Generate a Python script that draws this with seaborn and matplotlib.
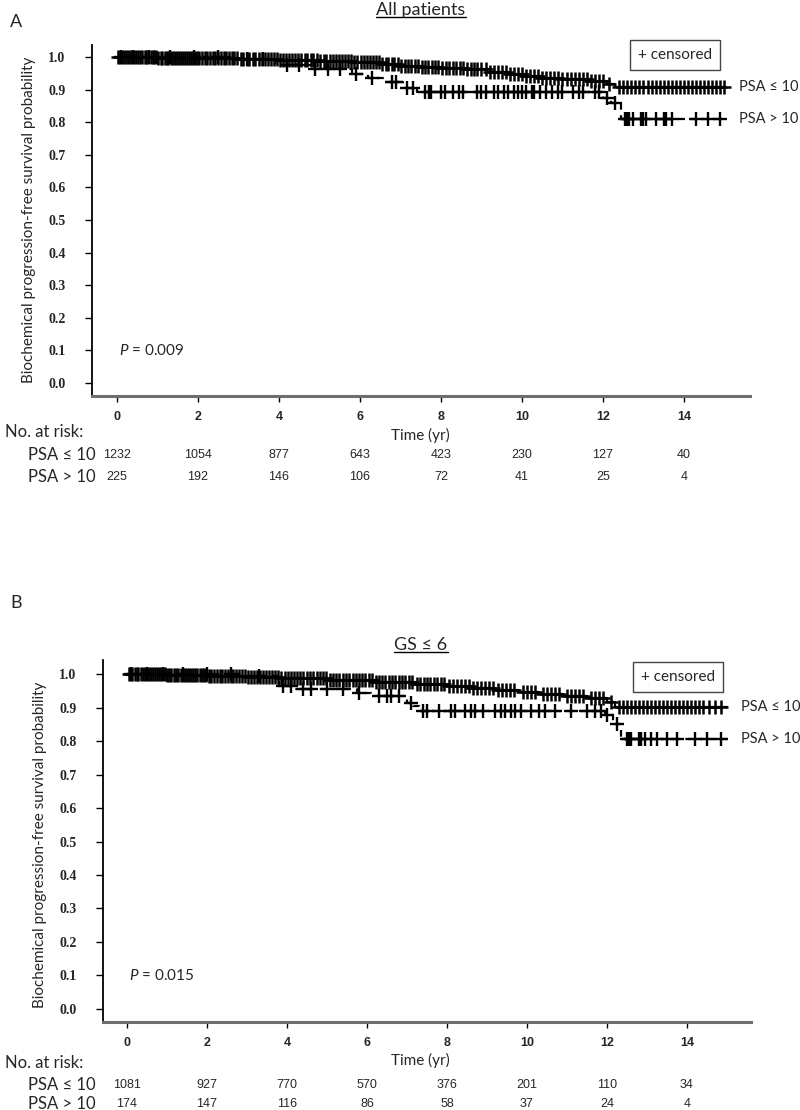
import numpy as np
import pandas as pd
import matplotlib
matplotlib.use("Agg")
import matplotlib.pyplot as plt
from matplotlib.lines import Line2D
import seaborn as sns

# ---------------- data ----------------
tick_years = [0, 2, 4, 6, 8, 10, 12, 14]
yticks = [0.0, 0.1, 0.2, 0.3, 0.4, 0.5, 0.6, 0.7, 0.8, 0.9, 1.0]

# Panel A: all patients
a_low_times = [0, 1.0, 2.0, 3.0, 4.0, 5.0, 5.8, 6.5, 7.0, 7.5, 8.0, 8.6, 9.2, 9.7, 10.1, 10.5, 11.0, 11.7, 12.1, 12.3, 15.0]
a_low_surv = [1.0, 0.998, 0.996, 0.993, 0.99, 0.987, 0.984, 0.979, 0.974, 0.97, 0.966, 0.962, 0.955, 0.948, 0.942, 0.937, 0.933, 0.928, 0.918, 0.908, 0.908]
a_high_times = [0, 2.8, 3.9, 4.8, 5.8, 6.2, 6.6, 7.05, 7.4, 12.0, 12.2, 12.45, 15.0]
a_high_surv = [1.0, 0.993, 0.975, 0.962, 0.948, 0.936, 0.922, 0.906, 0.893, 0.875, 0.858, 0.81, 0.81]
a_low_cens = [0.03, 0.08, 0.12, 0.18, 0.22, 0.27, 0.33, 0.38, 0.42, 0.47, 0.52, 0.58, 0.62, 0.68, 0.72, 0.77, 0.83,
              0.88, 0.92, 0.97, 1.02, 1.08, 1.12, 1.18, 1.23, 1.27, 1.33, 1.38, 1.43, 1.48, 1.53, 1.57, 1.63, 1.68,
              1.72, 1.78, 1.83, 1.88, 1.93, 1.98, 2.03, 2.1, 2.17, 2.23, 2.3, 2.37, 2.43, 2.5, 2.57, 2.63, 2.7, 2.77,
              2.83, 2.9, 2.97, 3.05, 3.12, 3.2, 3.27, 3.35, 3.42, 3.5, 3.57, 3.65, 3.72, 3.8, 3.87, 3.95, 4.03, 4.1,
              4.18, 4.25, 4.33, 4.4, 4.48, 4.55, 4.63, 4.7, 4.78, 4.85, 4.93, 5.02, 5.1, 5.17, 5.25, 5.33, 5.4, 5.48,
              5.55, 5.63, 5.7, 5.78, 5.85, 5.93, 6.02, 6.1, 6.18, 6.25, 6.33, 6.4, 6.48, 6.55, 6.63, 6.7, 6.78, 6.85,
              6.93, 7.02, 7.1, 7.18, 7.27, 7.35, 7.43, 7.52, 7.6, 7.68, 7.77, 7.85, 7.93, 8.03, 8.12, 8.2, 8.3, 8.38,
              8.47, 8.55, 8.65, 8.73, 8.82, 8.9, 9.0, 9.1, 9.2, 9.3, 9.4, 9.5, 9.6, 9.7, 9.8, 9.9, 10.0, 10.1, 10.2,
              10.3, 10.4, 10.5, 10.6, 10.7, 10.8, 10.9, 11.0, 11.1, 11.2, 11.3, 11.4, 11.5, 11.6, 11.7, 11.8, 11.9,
              12.0, 12.15, 12.4, 12.5, 12.6, 12.7, 12.8, 12.9, 13.0, 13.1, 13.2, 13.3, 13.4, 13.5, 13.6, 13.7, 13.8,
              13.9, 14.0, 14.1, 14.2, 14.3, 14.4, 14.5, 14.6, 14.7, 14.8, 14.9, 15.0]
a_high_cens = [0.1, 0.4, 0.8, 1.3, 1.9, 2.5, 3.2, 3.6, 4.2, 4.5, 4.9, 5.2, 5.5, 5.9, 6.3, 6.8, 6.9, 7.15, 7.3, 7.6,
               7.7, 7.75, 8.0, 8.1, 8.3, 8.45, 8.55, 8.9, 9.0, 9.1, 9.3, 9.4, 9.55, 9.65, 9.8, 9.9, 10.0, 10.1, 10.25,
               10.3, 10.45, 10.6, 10.75, 10.9, 11.0, 11.25, 11.4, 11.5, 11.8, 11.9, 12.1, 12.3, 12.55, 12.6, 12.65,
               12.75, 12.95, 13.0, 13.05, 13.3, 13.5, 13.55, 13.7, 14.3, 14.6, 14.9]
a_low_risk = [1232, 1054, 877, 643, 423, 230, 127, 40]
a_high_risk = [225, 192, 146, 106, 72, 41, 25, 4]
a_pvalue = "0.009"

# Panel B: GS <= 6
b_low_times = [0, 1.0, 2.0, 3.0, 3.8, 5.0, 6.2, 7.2, 8.0, 8.6, 9.2, 9.8, 10.3, 10.9, 11.5, 12.0, 12.2, 15.0]
b_low_surv = [1.0, 0.998, 0.995, 0.992, 0.988, 0.982, 0.975, 0.97, 0.965, 0.957, 0.951, 0.945, 0.94, 0.935, 0.93, 0.918, 0.903, 0.903]
b_high_times = [0, 2.8, 3.8, 4.2, 5.75, 6.1, 7.0, 7.15, 7.3, 11.95, 12.15, 12.35, 15.0]
b_high_surv = [1.0, 0.993, 0.965, 0.955, 0.942, 0.935, 0.915, 0.905, 0.89, 0.878, 0.852, 0.806, 0.806]
b_low_cens = [0.04, 0.09, 0.13, 0.19, 0.24, 0.28, 0.34, 0.39, 0.44, 0.49, 0.55, 0.6, 0.66, 0.7, 0.75, 0.81, 0.86,
              0.9, 0.96, 1.01, 1.06, 1.11, 1.17, 1.22, 1.28, 1.34, 1.39, 1.44, 1.5, 1.55, 1.6, 1.66, 1.71, 1.76, 1.82,
              1.87, 1.92, 1.97, 2.04, 2.11, 2.18, 2.25, 2.32, 2.38, 2.45, 2.52, 2.6, 2.66, 2.73, 2.8, 2.87, 2.94,
              3.02, 3.1, 3.17, 3.25, 3.33, 3.4, 3.48, 3.55, 3.63, 3.7, 3.78, 3.86, 3.94, 4.02, 4.1, 4.17, 4.25, 4.33,
              4.41, 4.5, 4.58, 4.66, 4.74, 4.82, 4.9, 4.98, 5.07, 5.15, 5.23, 5.31, 5.4, 5.48, 5.56, 5.64, 5.72,
              5.8, 5.88, 5.96, 6.04, 6.13, 6.22, 6.3, 6.38, 6.46, 6.55, 6.63, 6.71, 6.8, 6.88, 6.96, 7.05, 7.13,
              7.25, 7.33, 7.42, 7.5, 7.58, 7.67, 7.75, 7.84, 7.92, 8.05, 8.15, 8.25, 8.35, 8.45, 8.55, 8.65, 8.75,
              8.85, 8.95, 9.05, 9.15, 9.27, 9.37, 9.47, 9.58, 9.68, 9.9, 10.0, 10.1, 10.2, 10.4, 10.5, 10.6, 10.7,
              10.8, 11.0, 11.1, 11.2, 11.3, 11.4, 11.6, 11.7, 11.8, 11.9, 12.1, 12.3, 12.4, 12.5, 12.6, 12.7, 12.8,
              12.9, 13.0, 13.1, 13.2, 13.3, 13.4, 13.5, 13.6, 13.7, 13.8, 13.9, 14.0, 14.1, 14.2, 14.3, 14.4, 14.55,
              14.7, 14.85]
b_high_cens = [0.1, 0.5, 0.9, 1.4, 2.0, 2.6, 3.3, 3.9, 4.1, 4.4, 4.6, 5.0, 5.4, 5.8, 6.3, 6.5, 6.6, 6.8, 7.1, 7.4,
               7.5, 7.8, 8.1, 8.2, 8.45, 8.6, 8.7, 8.9, 9.2, 9.35, 9.45, 9.6, 9.7, 9.85, 10.1, 10.3, 10.45, 10.7, 11.1,
               11.5, 11.7, 11.85, 12.0, 12.25, 12.5, 12.55, 12.6, 12.8, 12.85, 12.95, 13.1, 13.25, 13.5, 13.75, 14.2,
               14.5, 14.85]
b_low_risk = [1081, 927, 770, 570, 376, 201, 110, 34]
b_high_risk = [174, 147, 116, 86, 58, 37, 24, 4]
b_pvalue = "0.015"

group_labels = ["PSA \u2264 10", "PSA > 10"]

# ---------------- style ----------------
sns.set_theme(style="white")
BODY = ['Lato', 'Open Sans', 'DejaVu Sans']
plt.rcParams['font.family'] = BODY
plt.rcParams['mathtext.fontset'] = 'custom'
plt.rcParams['mathtext.it'] = 'Lato:italic'
plt.rcParams['mathtext.rm'] = 'Lato'

W, H = 800, 1110
fig = plt.figure(figsize=(8, 11.1), dpi=100)


def fx(px):
    return px / W


def fy(py):
    return 1 - py / H


NARROW = ['Liberation Sans Narrow', 'Liberation Sans', 'DejaVu Sans']


def cens_y(times, surv, cens):
    times = np.asarray(times)
    surv = np.asarray(surv)
    idx = np.searchsorted(times, np.asarray(cens), side='right') - 1
    return surv[idx]


def panel(rect, xlim, ylim, low_t, low_s, high_t, high_s, low_c, high_c, pval):
    ax = fig.add_axes(rect)
    df_low = pd.DataFrame({"t": low_t, "s": low_s})
    df_high = pd.DataFrame({"t": high_t, "s": high_s})
    sns.lineplot(data=df_low, x="t", y="s", drawstyle="steps-post", estimator=None,
                 color="black", lw=1.6, ax=ax)
    sns.lineplot(data=df_high, x="t", y="s", drawstyle="steps-post", estimator=None,
                 color="black", lw=1.6, ax=ax)
    ax.lines[-1].set_linestyle((0, (3, 2.5)))
    sns.scatterplot(x=low_c, y=cens_y(low_t, low_s, low_c), marker="+", s=95,
                    color="black", linewidth=1.8, ax=ax, zorder=3)
    sns.scatterplot(x=high_c, y=cens_y(high_t, high_s, high_c), marker="+", s=95,
                    color="black", linewidth=1.7, ax=ax, zorder=3)
    ax.set_xlim(*xlim)
    ax.set_ylim(*ylim)
    ax.set_xticks(tick_years)
    ax.set_yticks(yticks)
    ax.set_yticklabels([f"{v:.1f}" for v in yticks],
                       fontfamily=['Liberation Serif', 'DejaVu Serif'], fontweight='bold', fontsize=10)
    ax.set_xticklabels([str(v) for v in tick_years], fontfamily=NARROW, fontweight='bold', fontsize=9)
    ax.set_xlabel("")
    ax.set_ylabel("")
    for s in ["top", "right"]:
        ax.spines[s].set_visible(False)
    ax.spines["left"].set_color("black")
    ax.spines["left"].set_linewidth(1.3)
    ax.spines["bottom"].set_color("#6e6e6e")
    ax.spines["bottom"].set_linewidth(2.2)
    ax.tick_params(axis="y", left=True, length=5, width=1, color="black", pad=14)
    ax.tick_params(axis="x", bottom=True, length=4, width=1, color="black", pad=7, direction="out")
    ax.grid(False)
    ax.text(0.05, 0.1, "$P$ = " + pval, fontsize=11, va="center", ha="left")
    ax.text(15.35, low_s[-1], group_labels[0], fontsize=10.5, va="center", ha="left", clip_on=False)
    ax.text(15.35, high_s[-1], group_labels[1], fontsize=10.5, va="center", ha="left", clip_on=False)
    return ax


# Panel A
axA = panel([fx(92), fy(396), fx(750) - fx(92), fy(45) - fy(396)], (-0.617, 15.63), (-0.040, 1.037),
            a_low_times, a_low_surv, a_high_times, a_high_surv, a_low_cens, a_high_cens, a_pvalue)
# Panel B
axB = panel([fx(103), fy(1022), fx(751) - fx(103), fy(660) - fy(1022)], (-0.6, 15.6), (-0.039, 1.042),
            b_low_times, b_low_surv, b_high_times, b_high_surv, b_low_cens, b_high_cens, b_pvalue)

ylabel = "Biochemical progression-free survival probability"
fig.text(fx(29), fy(220), ylabel, rotation=90, fontsize=11, ha="center", va="center")
fig.text(fx(40), fy(845), ylabel, rotation=90, fontsize=11, ha="center", va="center")

fig.text(fx(10), fy(22), "A", fontsize=13, ha="left", va="center")
fig.text(fx(10), fy(603), "B", fontsize=13, ha="left", va="center")
tA = fig.text(fx(421), fy(10), "All patients", fontsize=13, ha="center", va="center")
tB = fig.text(fx(421), fy(645), "GS \u2264 6", fontsize=13, ha="center", va="center")

# censored legend boxes
for cx, cy in [(675, 55), (678, 677)]:
    fig.text(fx(cx), fy(cy), "+ censored", fontsize=11, ha="center", va="center",
             bbox=dict(boxstyle="square,pad=0.5", fc="white", ec="#444444", lw=1))


# risk tables
def risk_table(ax, y_time, y_head, y1, y2, low_risk, high_risk):
    fig.text(fx(420), fy(y_time), "Time (yr)", fontsize=11, ha="center", va="center")
    fig.text(fx(5), fy(y_head), "No. at risk:", fontsize=12, ha="left", va="center")
    fig.text(fx(28), fy(y1), group_labels[0], fontsize=12, ha="left", va="center")
    fig.text(fx(28), fy(y2), group_labels[1], fontsize=12, ha="left", va="center")
    for t, n1, n2 in zip(tick_years, low_risk, high_risk):
        xp = ax.transData.transform((t, 0))[0]
        xf = fig.transFigure.inverted().transform((xp, 0))[0]
        fig.text(xf, fy(y1), str(n1), fontsize=9, fontfamily=NARROW, ha="center", va="center")
        fig.text(xf, fy(y2), str(n2), fontsize=9, fontfamily=NARROW, ha="center", va="center")


risk_table(axA, 435, 432, 455, 477, a_low_risk, a_high_risk)
risk_table(axB, 1060, 1063, 1085, 1104, b_low_risk, b_high_risk)

# underline titles
fig.canvas.draw()
r = fig.canvas.get_renderer()
inv = fig.transFigure.inverted()
for t in (tA, tB):
    bb = t.get_window_extent(renderer=r)
    (x0, y0) = inv.transform((bb.x0, bb.y0 + 1))
    (x1, _) = inv.transform((bb.x1, bb.y0 + 1))
    fig.add_artist(Line2D([x0, x1], [y0, y0], transform=fig.transFigure, color="black", lw=1))

fig.savefig("out.png", dpi=100)
